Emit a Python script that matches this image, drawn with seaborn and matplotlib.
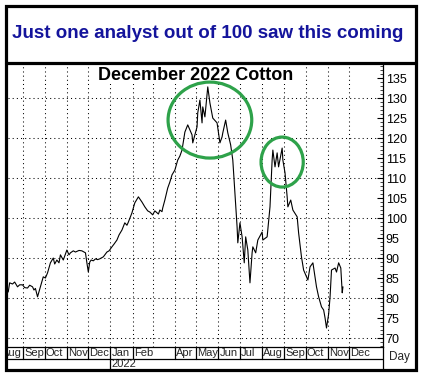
import pandas as pd
import matplotlib.pyplot as plt
import matplotlib.dates as mdates
from matplotlib.patches import Ellipse, Rectangle
from matplotlib.lines import Line2D
import seaborn as sns

# daily settlement, December 2022 cotton futures (cents/lb)
dates = [
    "2021-08-11", "2021-08-13", "2021-08-17", "2021-08-20", "2021-08-24", "2021-08-27",
    "2021-08-31", "2021-09-03", "2021-09-07", "2021-09-10", "2021-09-14", "2021-09-16",
    "2021-09-18", "2021-09-21", "2021-09-25", "2021-09-29", "2021-10-02", "2021-10-05",
    "2021-10-09", "2021-10-13", "2021-10-15", "2021-10-18", "2021-10-21", "2021-10-23",
    "2021-10-27", "2021-11-01", "2021-11-04", "2021-11-06", "2021-11-10", "2021-11-13",
    "2021-11-18", "2021-11-22", "2021-11-27", "2021-11-29", "2021-12-01", "2021-12-03",
    "2021-12-05", "2021-12-08", "2021-12-11", "2021-12-14", "2021-12-17", "2021-12-22",
    "2021-12-27", "2021-12-30", "2022-01-03", "2022-01-06", "2022-01-10", "2022-01-13",
    "2022-01-17", "2022-01-21", "2022-01-24", "2022-01-26", "2022-01-31", "2022-02-04",
    "2022-02-09", "2022-02-14", "2022-02-18", "2022-02-22", "2022-02-25", "2022-03-01",
    "2022-03-04", "2022-03-07", "2022-03-09", "2022-03-11", "2022-03-14", "2022-03-15",
    "2022-03-18", "2022-03-22", "2022-03-25", "2022-03-28", "2022-04-01", "2022-04-05",
    "2022-04-08", "2022-04-11", "2022-04-15", "2022-04-19", "2022-04-25", "2022-04-26",
    "2022-05-02", "2022-05-03", "2022-05-06", "2022-05-09", "2022-05-10", "2022-05-13",
    "2022-05-17", "2022-05-20", "2022-05-24", "2022-05-30", "2022-06-03", "2022-06-06",
    "2022-06-07", "2022-06-11", "2022-06-14", "2022-06-18", "2022-06-21", "2022-06-24",
    "2022-06-27", "2022-06-28", "2022-07-01", "2022-07-04", "2022-07-07", "2022-07-09",
    "2022-07-12", "2022-07-15", "2022-07-18", "2022-07-19", "2022-07-23", "2022-07-26",
    "2022-08-01", "2022-08-02", "2022-08-08", "2022-08-12", "2022-08-15", "2022-08-16",
    "2022-08-19", "2022-08-22", "2022-08-24", "2022-08-29", "2022-08-30", "2022-09-02",
    "2022-09-05", "2022-09-06", "2022-09-10", "2022-09-13", "2022-09-19", "2022-09-21",
    "2022-09-25", "2022-09-28", "2022-10-02", "2022-10-04", "2022-10-07", "2022-10-11",
    "2022-10-14", "2022-10-16", "2022-10-19", "2022-10-23", "2022-10-26", "2022-10-28",
    "2022-10-30", "2022-11-02", "2022-11-04", "2022-11-06", "2022-11-11", "2022-11-13",
    "2022-11-16", "2022-11-19", "2022-11-21", "2022-11-22",
]
prices = [
    81.5, 83.8, 83.5, 84.0, 82.8, 83.3,
    83.3, 82.6, 82.5, 83.2, 82.8, 82.0,
    82.4, 80.3, 82.8, 85.3, 85.0, 86.3,
    88.8, 90.0, 88.5, 89.5, 88.8, 90.8,
    89.5, 92.0, 90.8, 91.3, 91.8, 91.5,
    91.9, 91.8, 91.3, 88.8, 86.5, 89.0,
    89.5, 89.3, 89.8, 89.6, 89.8, 90.3,
    91.5, 91.8, 92.8, 93.5, 94.5, 95.8,
    97.0, 98.8, 98.2, 99.0, 101.3, 103.8,
    105.3, 104.0, 102.8, 101.8, 101.5, 100.8,
    101.8, 101.3, 101.0, 102.0, 101.6, 102.5,
    104.5, 107.5, 109.0, 110.8, 112.0, 114.5,
    115.5, 117.0, 121.5, 123.3, 120.8, 118.8,
    122.8, 126.3, 129.5, 123.8, 127.8, 125.3,
    132.8, 128.8, 125.0, 123.8, 118.8, 120.3,
    121.3, 124.5, 121.3, 118.3, 114.5, 106.3,
    97.8, 93.8, 98.8, 95.3, 88.8, 95.3,
    92.0, 83.8, 91.3, 92.8, 91.3, 94.5,
    96.5, 94.5, 95.3, 102.8, 114.5, 117.0,
    112.8, 116.3, 112.8, 117.5, 114.5, 111.3,
    105.3, 102.8, 104.5, 102.0, 100.3, 96.3,
    90.3, 87.0, 85.3, 84.5, 87.8, 88.8,
    85.3, 82.8, 80.3, 77.8, 77.0, 75.0,
    72.5, 76.0, 80.3, 87.0, 87.5, 86.5,
    88.8, 87.5, 81.3, 82.8,
]

# month strip under the chart (March has no label in the original)
month_labels = ["Aug", "Sep", "Oct", "Nov", "Dec", "Jan", "Feb", "Apr", "May",
                "Jun", "Jul", "Aug", "Sep", "Oct", "Nov", "Dec"]
month_starts = ["2021-08-01", "2021-09-01", "2021-10-01", "2021-11-01", "2021-12-01",
                "2022-01-01", "2022-02-01", "2022-04-01", "2022-05-01", "2022-06-01",
                "2022-07-01", "2022-08-01", "2022-09-01", "2022-10-01", "2022-11-01",
                "2022-12-01"]
grid_months = pd.date_range("2021-09-01", "2022-12-01", freq="MS")
year_label = "2022"
year_start = "2022-01-01"
y_ticks = list(range(70, 140, 5))
y_grid = list(range(70, 140, 10))

headline = "Just one analyst out of 100 saw this coming"
chart_title = "December 2022 Cotton"

# circled tops: (center date, center price, width in days, height in cents)
circles = [("2022-05-20", 124.5, 117, 19.0), ("2022-08-29", 114.0, 59, 12.5)]

df = pd.DataFrame({"date": pd.to_datetime(dates), "price": prices})

sns.set_style("white")
plt.rcParams["font.family"] = ["Liberation Sans", "DejaVu Sans"]

W, H = 422, 380
fig = plt.figure(figsize=(W / 100, H / 100), dpi=100)


def fx(px):
    return px / W


def fy(py):
    return 1 - py / H


x0, x1 = pd.Timestamp("2021-08-10"), pd.Timestamp("2023-01-17")

ax = fig.add_axes([fx(7.5), fy(347), fx(383) - fx(7.5), fy(64.5) - fy(347)])
sns.lineplot(data=df, x="date", y="price", ax=ax, color="black", linewidth=0.8)
ax.set_xlim(x0, x1)
ax.set_ylim(67.75, 138.4)
ax.set_xlabel("")
ax.set_ylabel("")
ax.set_xticks([])

for v in y_grid:
    ax.axhline(v, color="black", lw=0.75, ls=(0, (1, 3)), zorder=0)
for m in grid_months:
    ax.axvline(m, color="black", lw=0.75, ls=(0, (1, 3)), zorder=0)

ax.yaxis.tick_right()
ax.set_yticks(y_ticks)
ax.yaxis.set_minor_locator(plt.MultipleLocator(1))
ax.tick_params(axis="y", which="major", direction="in", length=4, width=0.8,
               pad=2, labelsize=9, colors="black", right=True, left=False)
ax.tick_params(axis="y", which="minor", direction="in", length=2, width=0.6,
               right=True, left=False)
for side in ["left", "top"]:
    ax.spines[side].set_visible(False)
ax.spines["right"].set_linewidth(0.9)
ax.spines["bottom"].set_linewidth(0.9)
ax.spines["right"].set_color("black")
ax.spines["bottom"].set_color("black")

for c_date, c_val, c_w, c_h in circles:
    ax.add_patch(Ellipse((mdates.date2num(pd.Timestamp(c_date)), c_val), c_w, c_h,
                         fill=False, edgecolor="#2ea24a", lw=2.3, zorder=5))

ax.text(0.5, 0.99, chart_title, transform=ax.transAxes, ha="center", va="top",
        fontsize=13, fontweight="bold", color="black",
        bbox=dict(facecolor="white", edgecolor="none", pad=0))

# month / year strip
ax2 = fig.add_axes([fx(7.5), fy(369), fx(383) - fx(7.5), fy(347) - fy(369)], sharex=ax)
ax2.set_xlim(x0, x1)
ax2.set_ylim(0, 1)
ax2.axis("off")
row = (369 - 359) / 22
ax2.axhline(row, color="black", lw=0.9)
for lab, start in zip(month_labels, month_starts):
    s = pd.Timestamp(start)
    ax2.plot([s, s], [row, 1], color="black", lw=0.9, clip_on=True)
    ax2.text(s + pd.Timedelta(days=1.5), (1 + row) / 2 - 0.02, lab, ha="left",
             va="center", fontsize=8, clip_on=True)
ys = pd.Timestamp(year_start)
ax2.plot([ys, ys], [0, row], color="black", lw=0.9)
ax2.text(ys + pd.Timedelta(days=1), row / 2, year_label, ha="left", va="center",
         fontsize=8)

# right strip line + "Day"
fig.add_artist(Line2D([fx(383), fx(383)], [fy(347), fy(370)], color="black", lw=0.9))
fig.text(fx(399), fy(357), "Day", ha="center", va="center", fontsize=8.5)

# headline box and outer frame
fig.text(fx(208), fy(33), headline, ha="center", va="center", fontsize=13.5,
         fontweight="bold", color="#14149c")
fig.add_artist(Line2D([fx(6), fx(416)], [fy(63), fy(63)], color="black", lw=2.3))
fig.add_artist(Rectangle((fx(6), fy(370)), fx(416) - fx(6), fy(6) - fy(370),
                         fill=False, edgecolor="black", lw=2.3,
                         transform=fig.transFigure))

fig.savefig("out.png", dpi=100, facecolor="white")
